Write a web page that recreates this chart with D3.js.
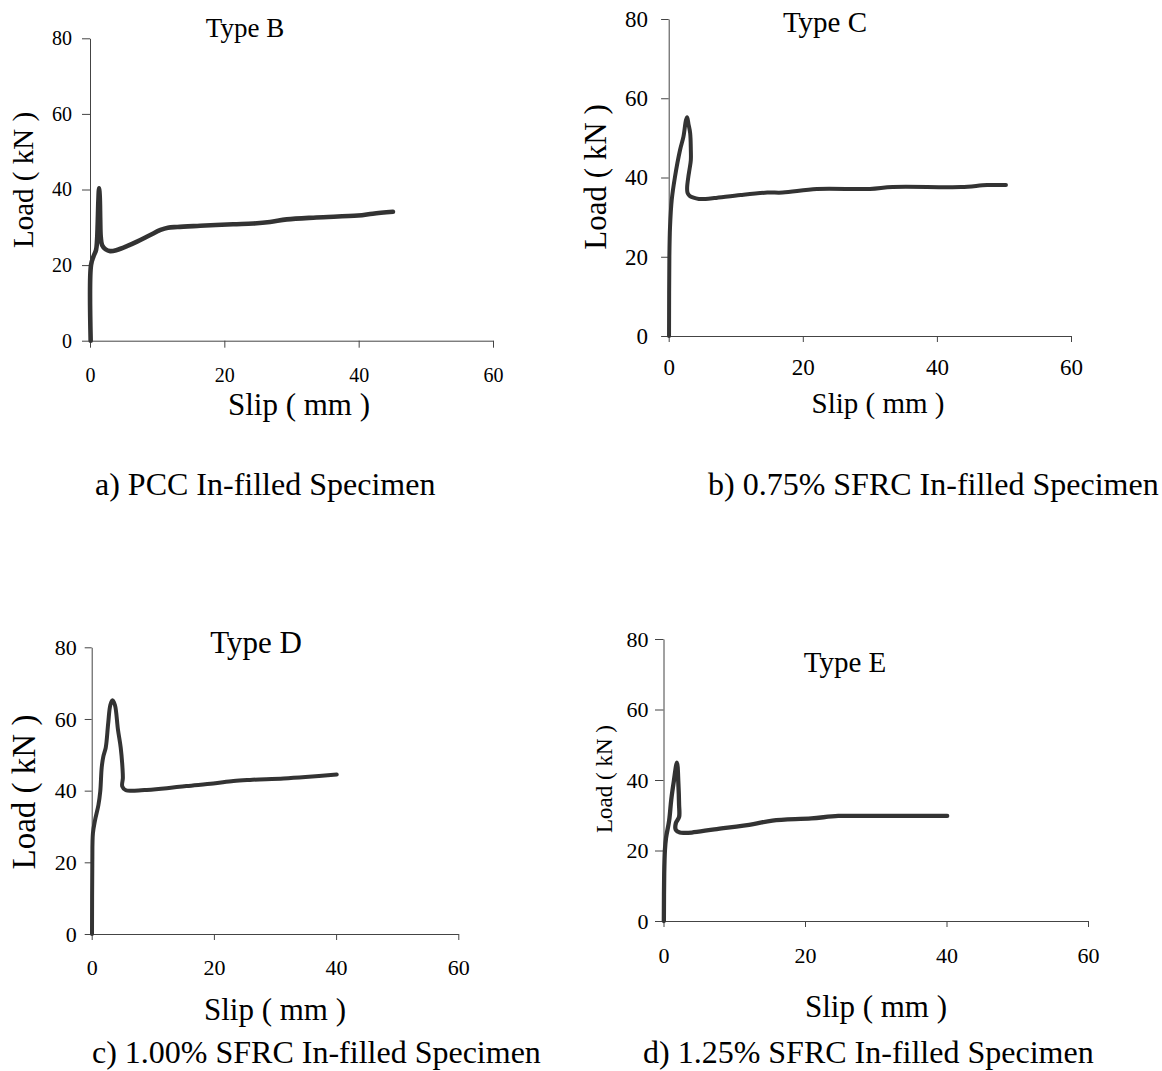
<!DOCTYPE html>
<html><head><meta charset="utf-8">
<script src="https://cdn.jsdelivr.net/npm/d3@7"></script>
<style>
body{margin:0;background:#fff}
svg{display:block}
text{font-family:"Liberation Serif","Times New Roman",Times,serif;fill:#000}
</style>
</head><body>
<svg id="chart" width="1162" height="1071"></svg>
<script>
// ---------- data ----------
const xTickValues = [0, 20, 40, 60];
const yTickValues = [0, 20, 40, 60, 80];
const xDomain = [0, 60];
const yDomain = [0, 80];
const xAxisTitle = "Slip ( mm )";
const yAxisTitle = "Load ( kN )";
const panelTitles = ["Type B", "Type C", "Type D", "Type E"];
const panelCaptions = [
  "a) PCC In-filled Specimen",
  "b) 0.75% SFRC In-filled Specimen",
  "c) 1.00% SFRC In-filled Specimen",
  "d) 1.25% SFRC In-filled Specimen"
];

// Type B (PCC)
const slipB = [0.1, 0.15, 0.5, 0.9, 1.05, 1.15, 1.25, 1.35, 1.45, 1.52, 1.6, 1.8, 2.3, 3.0, 4.0, 5.5, 7.0, 8.9, 10.5, 11.6, 13.0, 16.4, 21.3, 24.3, 26.8, 29.3, 33.7, 39.9, 42.1, 45.1];
const loadB = [0, 20, 22.2, 24.0, 26.5, 31, 37, 40.3, 38, 32, 27.5, 25.3, 24.2, 23.7, 24.0, 25.0, 26.2, 27.9, 29.3, 29.9, 30.1, 30.4, 30.8, 31.0, 31.4, 32.1, 32.6, 33.1, 33.6, 34.1];

// Type C (0.75% SFRC)
const slipC = [0.05, 0.1, 0.2, 0.45, 0.94, 1.7, 2.2, 2.58, 2.75, 2.95, 3.2, 3.3, 3.3, 3.1, 2.93, 2.75, 2.8, 3.1, 3.7, 4.5, 5.5, 6.8, 10.75, 14.7, 17.0, 22.1, 30.0, 33.4, 43.6, 47.5, 50.3];
const loadC = [0, 20, 27.6, 34.3, 40.2, 47.0, 50.3, 54.5, 55.2, 53.5, 51.2, 47.0, 44.4, 42.0, 40.2, 37.5, 36.2, 35.4, 34.9, 34.6, 34.6, 34.8, 35.6, 36.2, 36.2, 37.1, 37.1, 37.6, 37.6, 38.1, 38.1];

// Type D (1.00% SFRC)
const slipD = [0.05, 0.1, 0.2, 0.55, 1.1, 1.4, 1.64, 1.9, 2.3, 2.7, 3.05, 3.4, 3.8, 4.3, 4.75, 5.05, 5.1, 5.0, 5.6, 7.0, 9.0, 12.3, 15.5, 19.9, 23.2, 25.9, 31.4, 35.0, 40.1];
const loadD = [0, 19.7, 28.1, 31.8, 36.0, 39.8, 46.5, 49.5, 52.0, 58.8, 63.9, 65.2, 63.9, 57.0, 52.0, 46.0, 43.5, 41.2, 40.1, 40.0, 40.2, 40.7, 41.3, 42.0, 42.7, 43.0, 43.4, 43.8, 44.5];

// Type E (1.25% SFRC)
const slipE = [0.05, 0.1, 0.2, 0.35, 0.8, 1.1, 1.45, 1.9, 2.1, 2.2, 2.2, 1.75, 1.75, 2.3, 3.0, 4.0, 7.2, 12.7, 15.4, 20.9, 24.7, 29.0, 40.1];
const loadE = [0, 13.5, 20.1, 23.5, 28.5, 34.5, 39.5, 44.9, 39.0, 33.0, 29.5, 27.8, 25.8, 25.1, 25.0, 25.1, 26.0, 27.5, 28.5, 29.1, 29.8, 29.8, 29.8];

const seriesSlip = [slipB, slipC, slipD, slipE];
const seriesLoad = [loadB, loadC, loadD, loadE];

// ---------- layout ----------
const FONT = '"Liberation Serif","Times New Roman",Times,serif';
const layouts = [
  {left:90, right:493, top:38.3, bottom:340.7, tick:20, ySize:8, yPad:10, xSize:7, xBase:41.3,
   title:[245,37,27], ylab:[33,180,29], xlab:[299,415,31], cap:[95,495,32], sw:4.6},
  {left:668.7, right:1071, top:19, bottom:336, tick:23, ySize:7.6, yPad:13, xSize:6, xBase:39,
   title:[825,32,29], ylab:[606,177,31], xlab:[878,413,29], cap:[708,495,32], sw:4},
  {left:91.7, right:458.3, top:647.3, bottom:934, tick:22, ySize:7, yPad:8, xSize:6, xBase:41,
   title:[256,653,31], ylab:[35,792,33], xlab:[275,1020,31], cap:[92,1063,32], sw:4},
  {left:663.5, right:1088, top:639, bottom:921, tick:22, ySize:8.5, yPad:6.5, xSize:6, xBase:42,
   title:[845,672,29], ylab:[612,779,23], xlab:[876,1017,31], cap:[643,1063,32], sw:4.3}
];

const svg = d3.select("#chart");

layouts.forEach((L, i) => {
  const g = svg.append("g");
  const x = d3.scaleLinear().domain(xDomain).range([L.left, L.right]);
  const y = d3.scaleLinear().domain(yDomain).range([L.bottom, L.top]);

  const yAx = g.append("g")
    .attr("transform", `translate(${L.left},0)`)
    .call(d3.axisLeft(y).tickValues(yTickValues).tickSize(L.ySize).tickSizeOuter(0).tickPadding(L.yPad).tickFormat(d3.format("d")));
  const xAx = g.append("g")
    .attr("transform", `translate(0,${L.bottom})`)
    .call(d3.axisBottom(x).tickValues(xTickValues).tickSize(L.xSize).tickSizeOuter(0).tickFormat(d3.format("d")));

  [yAx, xAx].forEach(a => {
    a.attr("font-family", FONT).attr("font-size", L.tick);
    a.selectAll("path").attr("stroke", "#444").attr("stroke-width", 1);
    a.selectAll("line").attr("stroke", "#444").attr("stroke-width", 1);
    a.selectAll("text").attr("font-size", L.tick).attr("font-family", FONT).attr("fill", "#000");
  });
  xAx.selectAll("text").attr("y", L.xBase).attr("dy", null);

  const pts = seriesSlip[i].map((s, k) => [s, seriesLoad[i][k]]);
  const line = d3.line().x(d => x(d[0])).y(d => y(d[1])).curve(d3.curveCatmullRom.alpha(0.5));
  g.append("path").datum(pts)
    .attr("d", line)
    .attr("fill", "none")
    .attr("stroke", "#333")
    .attr("stroke-width", L.sw)
    .attr("stroke-linejoin", "round")
    .attr("stroke-linecap", "round");

  g.append("text").attr("x", L.title[0]).attr("y", L.title[1])
    .attr("text-anchor", "middle").attr("font-size", L.title[2]).text(panelTitles[i]);
  g.append("text").attr("transform", `translate(${L.ylab[0]},${L.ylab[1]}) rotate(-90)`)
    .attr("text-anchor", "middle").attr("font-size", L.ylab[2]).text(yAxisTitle);
  g.append("text").attr("x", L.xlab[0]).attr("y", L.xlab[1])
    .attr("text-anchor", "middle").attr("font-size", L.xlab[2]).text(xAxisTitle);
  g.append("text").attr("x", L.cap[0]).attr("y", L.cap[1])
    .attr("text-anchor", "start").attr("font-size", L.cap[2]).text(panelCaptions[i]);
});
</script>
</body></html>
